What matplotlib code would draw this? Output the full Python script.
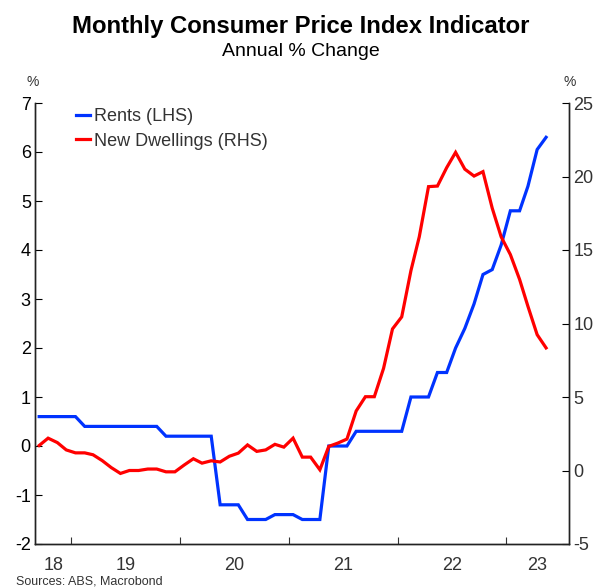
import numpy as np
import pandas as pd
import matplotlib
matplotlib.use("Agg")
import matplotlib.pyplot as plt
import matplotlib.dates as mdates

plt.rcParams['font.family'] = ['Liberation Sans', 'DejaVu Sans']
plt.rcParams['axes.unicode_minus'] = False

# monthly observations, Sep 2018 - May 2023
months = pd.date_range('2018-09-01', '2023-05-01', freq='MS')

rents = [0.6, 0.6, 0.6, 0.6, 0.6,
         0.4, 0.4, 0.4, 0.4, 0.4, 0.4, 0.4, 0.4, 0.4,
         0.2, 0.2, 0.2, 0.2, 0.2, 0.2,
         -1.2, -1.2, -1.2, -1.5, -1.5, -1.5, -1.4, -1.4, -1.4, -1.5, -1.5, -1.5,
         0.0, 0.0, 0.0,
         0.3, 0.3, 0.3, 0.3, 0.3, 0.3,
         1.0, 1.0, 1.0, 1.5, 1.5,
         2.0, 2.4, 2.9, 3.5, 3.6, 4.1, 4.8, 4.8, 5.3, 6.05, 6.3]

new_dwellings = [1.7, 2.2, 1.9, 1.4, 1.2, 1.2, 1.07, 0.67, 0.2, -0.2,
                 0.0, 0.0, 0.1, 0.1, -0.09, -0.09, 0.37, 0.8, 0.5, 0.66,
                 0.58, 0.97, 1.18, 1.74, 1.3, 1.4, 1.78, 1.59, 2.2, 0.91,
                 0.91, 0.05, 1.64, 1.87, 2.14, 4.05, 5.02, 5.02, 6.95, 9.63,
                 10.45, 13.6, 15.9, 19.31, 19.35, 20.6, 21.64, 20.5, 20.03, 20.33,
                 17.85, 15.9, 14.69, 13.0, 11.17, 9.24, 8.34]

years = [2018, 2019, 2020, 2021, 2022, 2023]
year_labels = ['18', '19', '20', '21', '22', '23']

x = months + pd.Timedelta(days=14)
x_lo = pd.Timestamp('2018-09-01')
x_hi = pd.Timestamp('2023-07-31')

fig = plt.figure(figsize=(6.01, 5.88), dpi=100)
ax = fig.add_axes([35 / 601, 1 - 544 / 588, 534 / 601, 441 / 588])
ax2 = ax.twinx()

l1, = ax.plot(x, rents, color='#0033ff', lw=2.3, label='Rents (LHS)', solid_joinstyle='miter')
l2, = ax2.plot(x, new_dwellings, color='#ff0000', lw=2.3, label='New Dwellings (RHS)', solid_joinstyle='miter')

ax.set_ylim(-2, 7)
ax.set_yticks(range(-2, 8))
ax2.set_ylim(-5, 25)
ax2.set_yticks(range(-5, 26, 5))
ax.set_xlim(x_lo, x_hi)

# year boundaries as ticks, labels centred in each (visible) year
bounds = [pd.Timestamp(f'{y}-01-01') for y in years[1:]]
ax.set_xticks(bounds)
ax.set_xticklabels([])
centres = []
for y in years:
    a = max(pd.Timestamp(f'{y}-01-01'), x_lo)
    b = min(pd.Timestamp(f'{y + 1}-01-01'), x_hi)
    centres.append(a + (b - a) / 2)
ax.set_xticks(centres, minor=True)
ax.set_xticklabels(year_labels, minor=True)
ax.tick_params(axis='x', which='minor', length=0, pad=9, labelsize=13, labelcolor='#333333')
ax.tick_params(axis='x', which='major', direction='in', length=5, color='#333333')

ax.tick_params(axis='y', direction='in', length=5, labelsize=13, labelcolor='black', pad=3)
ax2.tick_params(axis='y', direction='in', length=5, labelsize=13, labelcolor='#333333', pad=3)

for a in (ax, ax2):
    a.spines['top'].set_visible(False)
    for s in ('left', 'right', 'bottom'):
        a.spines[s].set_color('#222222')
        a.spines[s].set_linewidth(1.0)

fig.text(0.5, 1 - 27 / 588, 'Monthly Consumer Price Index Indicator', ha='center', va='center',
         fontsize=17.2, fontweight='bold')
fig.text(0.5, 1 - 52 / 588, 'Annual % Change', ha='center', va='center', fontsize=14)
fig.text(33 / 601, 1 - 82 / 588, '%', ha='center', va='center', fontsize=10, color='#333333')
fig.text(570 / 601, 1 - 82 / 588, '%', ha='center', va='center', fontsize=10, color='#333333')
fig.text(16 / 601, 1 - 581 / 588, 'Sources: ABS, Macrobond', ha='left', va='center', fontsize=9,
         color='#333333')

leg = fig.legend(handles=[l1, l2], loc='upper left', bbox_to_anchor=(76 / 601, 1 - 108 / 588),
                 frameon=False, fontsize=13, handlelength=0.8, handletextpad=0.22,
                 labelspacing=0.42, borderpad=0, borderaxespad=0)
for t in leg.get_texts():
    t.set_color('#333333')

fig.savefig('out.png', dpi=100)
